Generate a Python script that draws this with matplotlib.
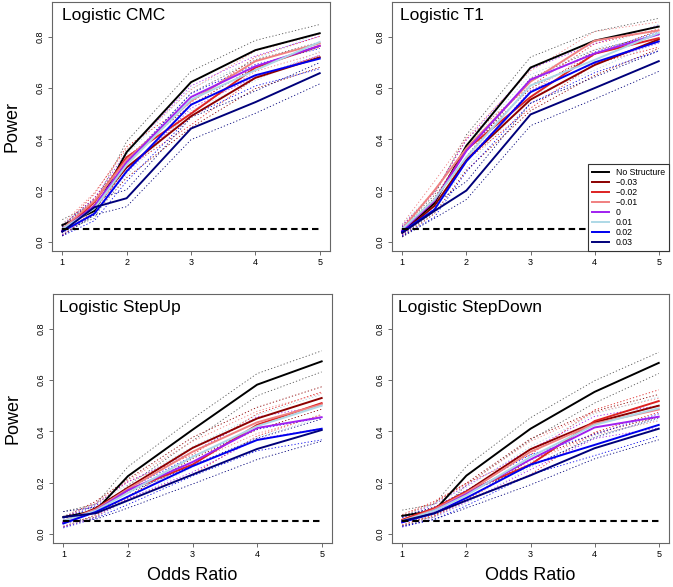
import numpy as np
import matplotlib
matplotlib.use('Agg')
import matplotlib.pyplot as plt

plt.rcParams['font.family'] = ['Liberation Sans', 'DejaVu Sans']

odds_ratio = [1, 1.5, 2, 3, 4, 5]
labels = ['No Structure', '\u22120.03', '\u22120.02', '\u22120.01', '0', '0.01', '0.02', '0.03']
colors = ['black', '#8B0000', '#DD2222', '#F08080', '#A020F0', '#ADD8E6', '#0000EE', '#00007A']
n_sims = 500  # replicates per point, used for the dotted 95% bands

power_cmc = [
    [0.065, 0.12, 0.35, 0.623, 0.748, 0.814],
    [0.045, 0.14, 0.29, 0.49, 0.64, 0.72],
    [0.04, 0.155, 0.33, 0.50, 0.68, 0.765],
    [0.05, 0.16, 0.32, 0.55, 0.705, 0.775],
    [0.045, 0.14, 0.31, 0.565, 0.685, 0.765],
    [0.05, 0.13, 0.30, 0.555, 0.67, 0.78],
    [0.04, 0.11, 0.275, 0.535, 0.65, 0.715],
    [0.04, 0.135, 0.17, 0.442, 0.545, 0.658],
]
power_t1 = [
    [0.04, 0.15, 0.375, 0.68, 0.785, 0.84],
    [0.035, 0.14, 0.32, 0.555, 0.69, 0.79],
    [0.045, 0.16, 0.36, 0.565, 0.734, 0.795],
    [0.05, 0.20, 0.365, 0.625, 0.785, 0.825],
    [0.045, 0.16, 0.355, 0.633, 0.735, 0.81],
    [0.05, 0.165, 0.33, 0.61, 0.71, 0.815],
    [0.04, 0.125, 0.314, 0.584, 0.70, 0.782],
    [0.035, 0.12, 0.20, 0.497, 0.60, 0.705],
]
power_stepup = [
    [0.065, 0.09, 0.225, 0.406, 0.582, 0.673],
    [0.045, 0.10, 0.18, 0.335, 0.45, 0.53],
    [0.045, 0.09, 0.17, 0.27, 0.425, 0.51],
    [0.05, 0.095, 0.175, 0.32, 0.435, 0.505],
    [0.045, 0.09, 0.17, 0.28, 0.413, 0.455],
    [0.05, 0.09, 0.16, 0.30, 0.42, 0.50],
    [0.04, 0.085, 0.145, 0.264, 0.366, 0.41],
    [0.065, 0.08, 0.13, 0.231, 0.331, 0.405],
]
power_stepdown = [
    [0.07, 0.09, 0.227, 0.41, 0.554, 0.667],
    [0.05, 0.095, 0.165, 0.33, 0.435, 0.50],
    [0.055, 0.10, 0.165, 0.27, 0.44, 0.518],
    [0.05, 0.095, 0.16, 0.32, 0.43, 0.485],
    [0.045, 0.09, 0.155, 0.29, 0.415, 0.457],
    [0.05, 0.09, 0.15, 0.30, 0.425, 0.49],
    [0.045, 0.08, 0.14, 0.27, 0.347, 0.425],
    [0.05, 0.08, 0.13, 0.228, 0.334, 0.41],
]
titles = ['Logistic CMC', 'Logistic T1', 'Logistic StepUp', 'Logistic StepDown']
alpha_level = 0.05

W, H = 673, 587
fig = plt.figure(figsize=(W / 100, H / 100), dpi=100)
# axes boxes in pixels: left, top, right, bottom
boxes = [(52, 2, 330, 251), (392, 2, 669, 251), (53, 294, 332, 543), (392, 294, 669, 543)]
panels = [power_cmc, power_t1, power_stepup, power_stepdown]
title_dx = [0.035, 0.03, 0.02, 0.02]

for k, (data, (l, t, r, b)) in enumerate(zip(panels, boxes)):
    ax = fig.add_axes([l / W, 1 - b / H, (r - l) / W, (b - t) / H])
    x = np.array(odds_ratio)
    handles = []
    for vals, c, lab in zip(data, colors, labels):
        p = np.array(vals)
        half = 1.96 * np.sqrt(p * (1 - p) / n_sims)
        dcol = '#555555' if c == 'black' else c
        ax.plot(x, p + half, color=dcol, lw=0.6, ls=(0, (1.5, 2.5)))
        ax.plot(x, p - half, color=dcol, lw=0.6, ls=(0, (1.5, 2.5)))
    for vals, c, lab in zip(data, colors, labels):
        h, = ax.plot(x, vals, color=c, lw=1.4, label=lab)
        handles.append(h)
    ax.plot([odds_ratio[0], odds_ratio[-1]], [alpha_level, alpha_level], color='black',
            lw=1.5, ls=(0, (3.1, 1.9)))

    ax.set_xlim(0.84, 5.16)
    ax.set_ylim(-0.036, 0.936)
    ax.set_xticks([1, 2, 3, 4, 5])
    ax.set_yticks([0.0, 0.2, 0.4, 0.6, 0.8])
    ax.set_yticklabels(['0.0', '0.2', '0.4', '0.6', '0.8'], rotation=90, va='center')
    ax.tick_params(labelsize=6.5, length=3, width=0.6, color='#555555', pad=2)
    for s in ax.spines.values():
        s.set_color('#666666')
        s.set_linewidth(0.8)

    ax.text(title_dx[k], 0.975, titles[k], transform=ax.transAxes, fontsize=12.5,
            va='top', ha='left')
    if k % 2 == 0:
        ax.set_ylabel('Power', fontsize=13, labelpad=11)
    if k >= 2:
        ax.set_xlabel('Odds Ratio', fontsize=13, labelpad=6)
    if k == 1:
        leg = ax.legend(handles=handles, loc='lower right', bbox_to_anchor=(1, 0),
                        borderaxespad=0, fontsize=6.3, fancybox=False, framealpha=1,
                        edgecolor='#333333', handlelength=1.9, labelspacing=0.12,
                        handletextpad=0.8, borderpad=0.45)
        leg.get_frame().set_linewidth(0.8)
        leg.set_zorder(10)

fig.savefig('out.png', dpi=100)
